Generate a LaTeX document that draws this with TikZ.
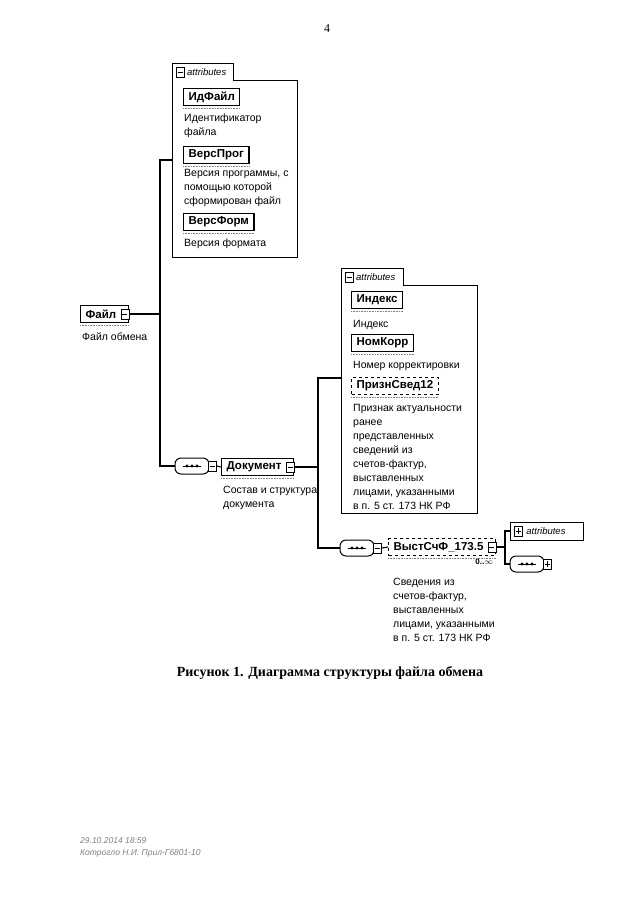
\documentclass[tikz,border=0pt]{standalone}
\usepackage{fontspec}
\setmainfont{Liberation Serif}
\setsansfont{Liberation Sans}
\usetikzlibrary{positioning}

\newcommand{\descfont}{\sffamily\fontsize{10.5}{14}\selectfont}
\newcommand{\elfont}{\sffamily\bfseries\fontsize{11.5}{13}\selectfont}
\newcommand{\tabfont}{\sffamily\itshape\fontsize{9.5}{11}\selectfont}
\newcommand{\icgap}{\kern7pt}

\begin{document}
\begin{tikzpicture}[x=1pt, y=-1pt,
  line/.style={line width=1.1pt},
  frame/.style={line width=0.9pt},
  elbox/.style={draw, line width=1.3pt, font=\elfont, inner xsep=5pt, inner ysep=0pt, minimum height=17pt, anchor=west},
  optbox/.style={elbox, dashed, line width=1pt},
  desc/.style={font=\descfont, align=left, anchor=north west, inner sep=0pt},
  iconbox/.style={draw, fill=white, line width=0.7pt, minimum width=8pt, minimum height=10pt, inner sep=0pt},
  minusic/.style={iconbox, path picture={\draw ([xshift=1.5pt]path picture bounding box.west) -- ([xshift=-1.5pt]path picture bounding box.east);}},
  plusic/.style={iconbox, path picture={\draw ([xshift=1.5pt]path picture bounding box.west) -- ([xshift=-1.5pt]path picture bounding box.east);
      \draw ([yshift=-2pt]path picture bounding box.north) -- ([yshift=2pt]path picture bounding box.south);}},
  seq/.style={draw, line width=1pt, rounded corners=6pt, minimum width=34pt, minimum height=16pt, inner sep=0pt,
    path picture={\draw ([xshift=-9pt]path picture bounding box.center) -- ([xshift=9pt]path picture bounding box.center);
      \foreach \d in {-5,0,5} \fill ([xshift=\d pt]path picture bounding box.center) circle (1.6pt);}},
  docmark/.style={gray, densely dotted, line width=0.6pt},
  tablabel/.style={font=\tabfont, anchor=west, inner sep=0pt}
]
\fill[white] (0,0) rectangle (640,905);
\useasboundingbox (0,0) rectangle (640,905);

% page number
\node[font=\fontsize{12}{14}\selectfont] (pagenum) at (327,29) {4};

% root element
\node[elbox] (fileEl) at (80,314) {Файл\icgap};
\node[minusic] (fileIc) at ([xshift=-4pt]fileEl.east) {};
\node[desc] (fileD) at (82,333) {Файл обмена};

% attributes of Файл
\draw[frame] (172,63) -- (233,63) -- (233,80) -- (297,80) -- (297,257) -- (172,257) -- cycle;
\node[minusic] (tabA) at (180,72) {};
\node[tablabel] at (187,72) {attributes};
\node[elbox] (idFile) at (183,97) {ИдФайл};
\node[desc] at (184,114) {Идентификатор\\файла};
\node[elbox] (versProg) at (183,155) {ВерсПрог};
\node[desc] at (184,169) {Версия программы, с\\помощью которой\\сформирован файл};
\node[elbox] (versForm) at (183,222) {ВерсФорм};
\node[desc] at (184,239) {Версия формата};

% Документ
\node[seq] (seqA) at (192,466) {};
\node[minusic] (seqAIc) at ([xshift=3pt]seqA.east) {};
\node[elbox] (docEl) at (221,467) {Документ\icgap};
\node[minusic] (docIc) at ([xshift=-4pt]docEl.east) {};
\node[desc] at (223,486) {Состав и структура\\документа};

\coordinate (attrA) at (172,160);
\coordinate (fj) at (160,314);
\draw[line] (fileIc.east) -- (fj);
\draw[line] (attrA) -| (fj) |- (seqA.west);
\draw[line] (seqAIc.east) -- (docEl.west);

% attributes of Документ
\draw[frame] (341,268) -- (403,268) -- (403,285) -- (477,285) -- (477,513) -- (341,513) -- cycle;
\node[minusic] (tabB) at (349,277) {};
\node[tablabel] at (356,277) {attributes};
\node[elbox] (index) at (351,300) {Индекс};
\node[desc] at (353,320) {Индекс};
\node[elbox] (nomKorr) at (351,343) {НомКорр};
\node[desc] at (353,361) {Номер корректировки};
\node[optbox] (priznSv) at (351,386) {ПризнСвед12};
\node[desc] at (353,404) {Признак актуальности\\ранее\\представленных\\сведений из\\счетов-фактур,\\выставленных\\лицами, указанными\\в п. 5 ст. 173 НК РФ};

% ВыстСчФ_173.5
\node[seq] (seqB) at (357,548) {};
\node[minusic] (seqBIc) at ([xshift=3pt]seqB.east) {};
\node[optbox] (invEl) at (388,547) {ВыстСчФ\_173.5\icgap};
\node[minusic] (invIc) at ([xshift=-4pt]invEl.east) {};
\node[font=\sffamily\bfseries\fontsize{8}{9}\selectfont, anchor=north east, inner sep=0pt] (invOcc) at ([yshift=-3pt,xshift=-3pt]invEl.south east) {0..$\infty$};
\node[desc] at (393,578) {Сведения из\\счетов-фактур,\\выставленных\\лицами, указанными\\в п. 5 ст. 173 НК РФ};

\coordinate (attrB) at (341,378);
\coordinate (dj) at (318,467);
\draw[line] (docIc.east) -- (dj);
\draw[line] (attrB) -| (dj) |- (seqB.west);
\draw[line] (seqBIc.east) -- (invEl.west);

% collapsed children
\node[draw, frame, anchor=west, font=\tabfont, inner xsep=3pt, minimum height=18pt] (attrC) at (510,531) {\kern13pt attributes\kern15pt};
\node[plusic] (attrCIc) at ([xshift=8pt]attrC.west) {};
\node[seq] (seqC) at (527,564) {};
\node[plusic] (seqCIc) at ([xshift=3pt]seqC.east) {};

\coordinate (ij) at (505,547);
\draw[line] (invIc.east) -- (ij);
\draw[line] (attrC.west) -| (ij) |- (seqC.west);

% documentation marks under elements
\foreach \n in {fileEl, idFile, versProg, versForm, docEl, index, nomKorr, priznSv, invEl}
  \draw[docmark] ([yshift=-2pt]\n.south west) -- ([yshift=-2pt]\n.south east);

% caption and footer
\node[font=\bfseries\fontsize{14}{16}\selectfont] (caption) at (330,673) {Рисунок 1. Диаграмма структуры файла обмена};
\node[font=\sffamily\itshape\fontsize{8.5}{12}\selectfont, text=gray, align=left, anchor=west, inner sep=0pt] (footer) at (80,847) {29.10.2014 18:59\\Котрогло Н.И. Прил-Г6801-10};
\end{tikzpicture}
\end{document}
